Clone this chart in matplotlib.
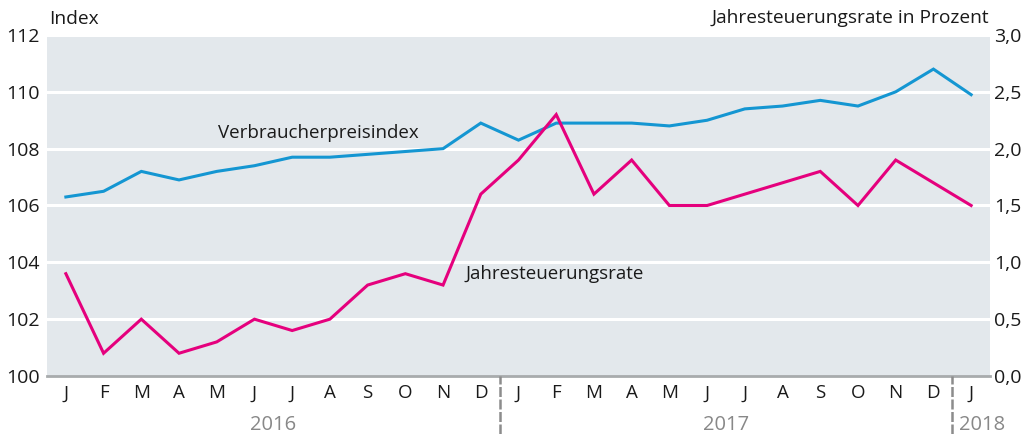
import matplotlib
matplotlib.use("Agg")
import matplotlib.pyplot as plt
from matplotlib.lines import Line2D

plt.rcParams['font.family'] = ['Open Sans', 'DejaVu Sans']

months = ["J", "F", "M", "A", "M", "J", "J", "A", "S", "O", "N", "D",
          "J", "F", "M", "A", "M", "J", "J", "A", "S", "O", "N", "D", "J"]
years = ["2016", "2017", "2018"]
cpi = [106.3, 106.5, 107.2, 106.9, 107.2, 107.4, 107.7, 107.7, 107.8, 107.9, 108.0, 108.9,
       108.3, 108.9, 108.9, 108.9, 108.8, 109.0, 109.4, 109.5, 109.7, 109.5, 110.0, 110.8, 109.9]
rate = [0.9, 0.2, 0.5, 0.2, 0.3, 0.5, 0.4, 0.5, 0.8, 0.9, 0.8, 1.6,
        1.9, 2.3, 1.6, 1.9, 1.5, 1.5, 1.6, 1.7, 1.8, 1.5, 1.9, 1.7, 1.5]
left_ticks = [100, 102, 104, 106, 108, 110, 112]
right_ticks = [0.0, 0.5, 1.0, 1.5, 2.0, 2.5, 3.0]
right_labels = ["0,0", "0,5", "1,0", "1,5", "2,0", "2,5", "3,0"]

W, H = 1027, 434
fig = plt.figure(figsize=(W / 100, H / 100), dpi=100)
L, R, T, B = 47, 990, 35, 376
ax = fig.add_axes([L / W, 1 - B / H, (R - L) / W, (B - T) / H])
ax.set_facecolor('#e3e8ec')
x = list(range(len(months)))
ax.set_xlim(-0.5, len(months) - 0.5)
ax.set_ylim(100, 112)
ax.set_yticks(left_ticks)
ax.set_yticklabels([str(t) for t in left_ticks])
for t in left_ticks[1:]:
    ax.axhline(t, color='white', lw=2.2, zorder=1)
for s in ['top', 'right', 'left']:
    ax.spines[s].set_visible(False)
ax.spines['bottom'].set_color('#a8abad')
ax.spines['bottom'].set_linewidth(2)
ax.tick_params(axis='y', length=0, labelsize=14, pad=5, colors='#1a1a1a')
ax.set_xticks(x)
ax.set_xticklabels(months)
ax.tick_params(axis='x', length=0, labelsize=13.5, pad=6, colors='#1a1a1a')

ax2 = ax.twinx()
ax2.set_ylim(0, 3)
ax2.set_yticks(right_ticks)
ax2.set_yticklabels(right_labels)
for s in ax2.spines.values():
    s.set_visible(False)
ax2.tick_params(axis='y', length=0, labelsize=14, pad=3, colors='#1a1a1a')

ax.plot(x, cpi, color='#1496d2', lw=2.2, zorder=3, solid_joinstyle='miter')
ax2.plot(x, rate, color='#e5007d', lw=2.2, zorder=4, solid_joinstyle='miter')

ax.text(6.7, 108.55, "Verbraucherpreisindex", fontsize=13.5, color='#1a1a1a', ha='center', va='center')
ax.text(12.95, 103.6, "Jahresteuerungsrate", fontsize=13.5, color='#1a1a1a', ha='center', va='center')

fig.text(49 / W, 1 - 19 / H, "Index", fontsize=13.8, color='#1a1a1a', ha='left', va='center')
fig.text(989 / W, 1 - 18 / H, "Jahresteuerungsrate in Prozent", fontsize=13.8, color='#1a1a1a', ha='right', va='center')

# year dividers and labels
for xd in [11.5, 23.5]:
    px = L + (xd + 0.5) * (R - L) / len(months)
    fig.add_artist(Line2D([px / W, px / W], [0, 1 - B / H], color='#8c8c8c', lw=1.8, ls=(0, (4, 1))))
year_centers = [5.5, 17.5, 24.3]
for yc, lab in zip(year_centers, years):
    px = L + (yc + 0.5) * (R - L) / len(months)
    fig.text(px / W, 1 - 425 / H, lab, fontsize=14.5, color='#888888', ha='center', va='center')

fig.savefig("out.png", dpi=100)
